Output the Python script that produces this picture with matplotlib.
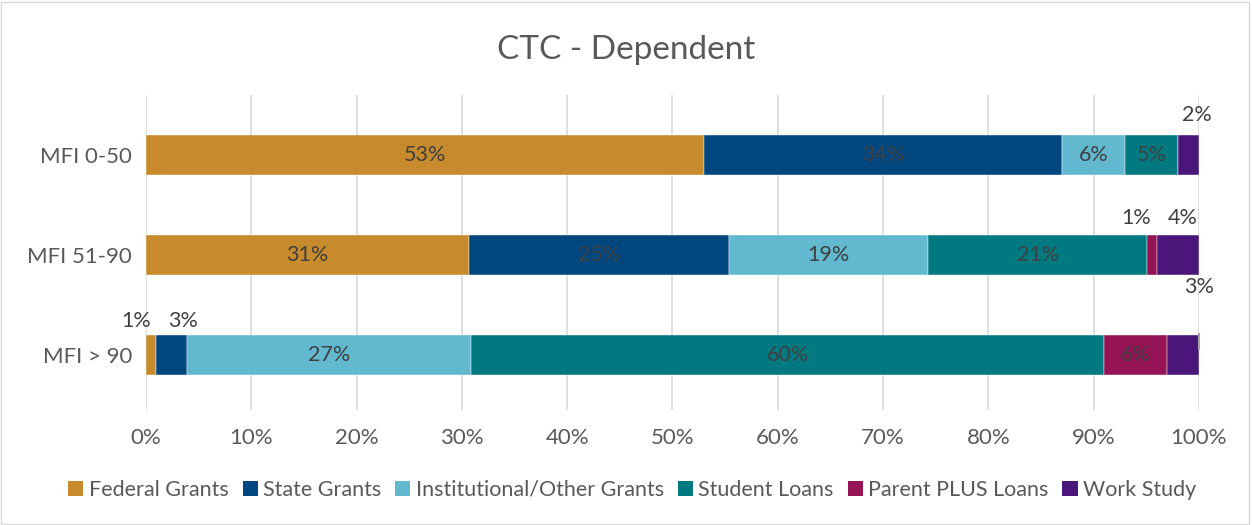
import matplotlib.pyplot as plt
from matplotlib.patches import Rectangle, Patch

categories = ['MFI 0-50', 'MFI 51-90', 'MFI > 90']
series_names = ['Federal Grants', 'State Grants', 'Institutional/Other Grants',
                'Student Loans', 'Parent PLUS Loans', 'Work Study']
federal = [53.0, 30.7, 0.95]
state = [34.0, 24.7, 2.95]
institutional = [6.0, 18.9, 27.0]
student = [5.0, 20.8, 60.1]
parent_plus = [0.0, 0.9, 6.0]
work_study = [2.0, 4.0, 3.0]
tick_values = list(range(0, 101, 10))

colors = ['#C78A2C', '#00467F', '#62B8CE', '#007A80', '#941456', '#4B1679']
text_color = '#404040'
label_gray = '#595959'

plt.rcParams['font.family'] = ['Lato', 'DejaVu Sans']

fig = plt.figure(figsize=(12.52, 5.25), dpi=100)
ax = fig.add_axes([0.1166, 0.219, 0.841, 0.600])

series = [federal, state, institutional, student, parent_plus, work_study]
ypos = list(range(len(categories)))
left = [0.0] * len(categories)
segments = {}
for si, vals in enumerate(series):
    ax.barh(ypos, vals, left=left, height=0.4, color=colors[si],
            edgecolor='white', linewidth=0.3, zorder=3)
    for ci, v in enumerate(vals):
        segments[(ci, si)] = (left[ci] + v / 2, v)
    left = [l + v for l, v in zip(left, vals)]

# labels inside bars (wide enough segments)
for (ci, si), (cx, v) in segments.items():
    if v >= 4.5:
        ax.text(cx, ci, f'{round(v):.0f}%', ha='center', va='center',
                fontsize=15.5, color=text_color, zorder=4)

# labels placed above bars for small segments: (category, series, x shift, y)
outside = [(0, 5, 0.8, -0.40), (1, 4, -1.5, -0.37), (1, 5, 0.5, -0.37),
           (2, 0, -1.4, -0.34), (2, 1, 1.1, -0.34), (2, 5, 1.5, -0.68)]
for ci, si, dx, dy in outside:
    cx, v = segments[(ci, si)]
    ax.text(cx + dx, ci + dy, f'{round(v):.0f}%', ha='center', va='center',
            fontsize=15.5, color=text_color, zorder=4)
# leader line for last label
ax.plot([100, 100], [2 - 0.21, 2 - 0.06], color='#A6A6A6', lw=1.5,
        zorder=5, clip_on=False)

ax.set_xlim(0, 100)
ax.set_ylim(2.55, -0.6)
ax.set_yticks(ypos)
ax.set_yticklabels(categories, fontsize=16, color=label_gray)
ax.set_xticks(tick_values)
ax.set_xticklabels([f'{t}%' for t in tick_values], fontsize=16, color=label_gray)
ax.tick_params(length=0, pad=10)
ax.tick_params(axis='x', pad=13)
ax.grid(axis='x', color='#D9D9D9', linewidth=1.2, zorder=0)
for s in ax.spines.values():
    s.set_visible(False)

fig.text(0.5, 0.905, 'CTC - Dependent', ha='center', va='center',
         fontsize=24, color=label_gray)

handles = [Patch(facecolor=c) for c in colors]
fig.legend(handles, series_names, loc='center', bbox_to_anchor=(0.505, 0.067),
           ncol=6, frameon=False, fontsize=15.5, labelcolor=label_gray,
           handlelength=0.7, handleheight=0.7, handletextpad=0.25,
           columnspacing=0.65)

fig.patches.append(Rectangle((0.001, 0.002), 0.997, 0.995, transform=fig.transFigure,
                             fill=False, edgecolor='#D9D9D9', linewidth=1))

plt.savefig('out.png', dpi=100)
